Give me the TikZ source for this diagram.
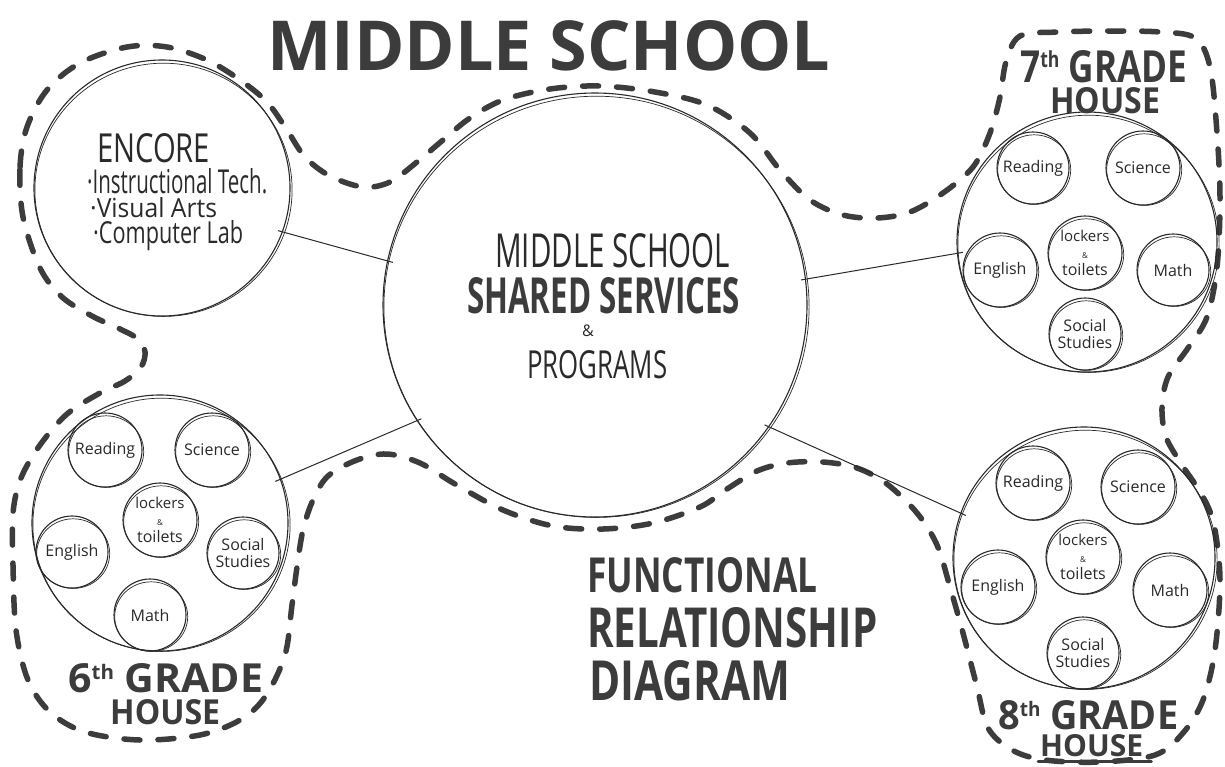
\documentclass[tikz,border=0pt]{standalone}
\usepackage{fontspec}
\setmainfont{Open Sans}
\usepackage{graphicx}
\usetikzlibrary{calc}

\definecolor{ink}{HTML}{2A2A2A}
\definecolor{marker}{HTML}{3C3C3C}

\tikzset{
  sheet/.style={x=1pt,y=-1pt},
  bubble/.style={circle, draw=ink, line width=1.1pt, inner sep=0pt},
  retrace/.style={draw=ink, line width=0.7pt},
  link/.style={draw=ink, line width=1pt, shorten <=-5pt, shorten >=-6pt},
  boundary/.style={draw=marker, line width=5.5pt, line cap=round, dash pattern=on 16pt off 18pt},
  subj/.style={font=\fontsize{16}{17}\selectfont, text=ink, align=center},
  hand/.style={text=ink, inner sep=0pt, anchor=base west},
  bold hand/.style={text=marker, inner sep=0pt, anchor=base west, font=\bfseries},
  underline/.style={draw=marker, line width=3pt, line cap=round},
}

% a circle drawn twice, the second stroke slightly off, like a pen retrace
\newcommand\bigbubble[4]{% name, x, y, radius
  \node[bubble, minimum size=2*#4 pt] (#1) at (#2,#3) {};
  \draw[retrace] ([shift={(1.5,1.8)}]#1.center) ellipse [x radius=#4+0.6, y radius=#4-1.4];
}
\newcommand\subject[5]{% name, x, y, radius, label
  \node[bubble, subj, minimum size=2*#4 pt] (#1) at (#2,#3) {#5};
  \draw[retrace] ([shift={(1.2,1.6)}]#1.center) ellipse [x radius=#4+0.5, y radius=#4-1.2];
}
\newcommand\lockers{\fontsize{15}{15}\selectfont lockers\\{\fontsize{8}{8}\selectfont\&}\\toilets}
\newcommand\ordsup[1]{\raisebox{0.32em}{\scalebox{0.5}{#1}}}
\newcommand\fitbox[3]{\resizebox{#1pt}{#2pt}{#3}}

\begin{document}
\begin{tikzpicture}[sheet]
\fill[white] (0,0) rectangle (1225,766);
\useasboundingbox (0,0) rectangle (1225,766);

% dashed outline around the whole school
\draw[boundary] plot[smooth cycle, tension=0.55] coordinates {
 (23,217) (20,167) (27,127) (47,90) (80,63) (127,47) (167,47) (207,60) (240,80)
 (267,102) (287,130) (305,157) (330,176) (363,187) (390,182) (417,162) (443,140)
 (470,118) (503,100) (550,89) (600,86) (655,92) (707,105) (750,133) (780,170)
 (810,200) (843,215) (877,218) (910,212) (943,193) (973,167) (990,133) (1000,97)
 (1006,62) (1020,36) (1060,32) (1110,31) (1160,32) (1195,38) (1210,67) (1217,133)
 (1220,200) (1217,267) (1207,317) (1188,348) (1168,377) (1162,407) (1166,437)
 (1182,465) (1202,495) (1214,525) (1220,580) (1215,650) (1203,700) (1183,733)
 (1155,755) (1100,762) (1045,760) (1012,750) (988,728) (977,687) (963,633)
 (950,587) (937,545) (917,513) (887,484) (857,468) (823,462) (787,463) (757,471)
 (727,489) (700,507) (653,523) (603,529) (553,526) (503,510) (455,484) (420,463)
 (387,454) (357,460) (328,476) (313,500) (303,530) (297,567) (292,605) (285,655)
 (265,697) (240,720) (200,735) (140,740) (85,732) (50,712) (28,680) (16,630)
 (13,565) (13,513) (21,478) (40,445) (67,414) (100,393) (125,381) (141,367)
 (145,352) (138,339) (120,329) (92,316) (62,297) (40,268)
};

% main bubbles
\bigbubble{core}{595}{305}{212}
\bigbubble{encore}{162}{188}{128}
\bigbubble{h6}{160}{523}{128}
\bigbubble{h7}{1087}{242}{130}
\bigbubble{h8}{1084}{558}{131}

% 7th grade house
\subject{r7}{1033}{168}{36}{Reading}
\subject{s7}{1143}{168}{37}{Science}
\subject{l7}{1085}{253}{37}{\lockers}
\subject{e7}{1000}{270}{37}{English}
\subject{m7}{1173}{270}{36}{Math}
\subject{ss7}{1085}{334}{36}{Social\\Studies}

% 6th grade house
\subject{r6}{105}{450}{37}{Reading}
\subject{s6}{212}{450}{37}{Science}
\subject{l6}{160}{520}{37}{\lockers}
\subject{e6}{72}{552}{36}{English}
\subject{ss6}{243}{553}{36}{Social\\Studies}
\subject{m6}{150}{615}{36}{Math}

% 8th grade house
\subject{r8}{1033}{483}{37}{Reading}
\subject{s8}{1138}{487}{37}{Science}
\subject{l8}{1083}{557}{37}{\lockers}
\subject{e8}{998}{587}{37}{English}
\subject{m8}{1170}{590}{37}{Math}
\subject{ss8}{1083}{653}{36}{Social\\Studies}

% relationships to the shared core
\draw[link] (encore.340) -- (core.168);
\draw[link] (core.7) -- (h7.185);
\draw[link] (core.213) -- (h6.20);
\draw[link] (core.325) -- (h8.160);

% headings
\node[bold hand] (title) at (267,70) {\fitbox{563}{50}{MIDDLE SCHOOL}};
\node[bold hand] (fr1) at (587,592) {\fitbox{230}{35}{FUNCTIONAL}};
\node[bold hand] (fr2) at (587,647) {\fitbox{290}{40}{RELATIONSHIP}};
\node[bold hand] (fr3) at (589,700) {\fitbox{201}{40}{DIAGRAM}};

% house labels
\node[bold hand] (g7) at (1020,82) {\fitbox{167}{32}{7\ordsup{th} GRADE}};
\node[bold hand] (g7h) at (1050,113) {\fitbox{110}{26}{HOUSE}};
\node[bold hand] (g6) at (68,692) {\fitbox{195}{29}{6\ordsup{th} GRADE}};
\node[bold hand] (g6h) at (110,724) {\fitbox{110}{25}{HOUSE}};
\node[bold hand] (g8) at (998,729) {\fitbox{180}{29}{8\ordsup{th} GRADE}};
\node[bold hand] (g8h) at (1040,756) {\fitbox{103}{22}{HOUSE}};
\draw[underline] ([shift={(-2,5)}]g8h.south west) -- ([shift={(8,5)}]g8h.south east);

% shared core text
\node[hand] (c1) at (495,267) {\fitbox{235}{34}{MIDDLE SCHOOL}};
\node[bold hand] (c2) at (467,313) {\fitbox{273}{36}{SHARED SERVICES}};
\node[text=ink, inner sep=0pt, font=\fontsize{16}{16}\selectfont] (c3) at (588,331) {\&};
\node[hand] (c4) at (527,378) {\fitbox{140}{28}{PROGRAMS}};

% encore text
\node[hand] (en) at (97,162) {\fitbox{113}{29}{ENCORE}};
\node[hand] (en1) at (87,193) {\fitbox{180}{25}{\textperiodcentered Instructional Tech.}};
\node[hand] (en2) at (90,217) {\fitbox{127}{20}{\textperiodcentered Visual Arts}};
\node[hand] (en3) at (93,243) {\fitbox{150}{23}{\textperiodcentered Computer Lab}};
\end{tikzpicture}
\end{document}
